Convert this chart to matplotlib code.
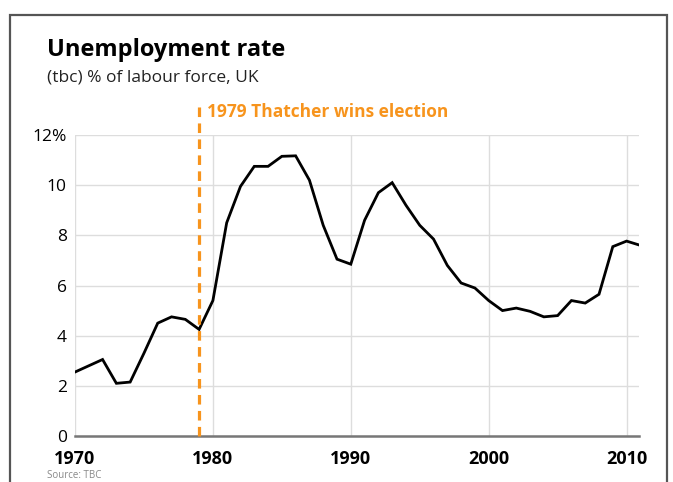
import matplotlib
matplotlib.use("Agg")
import matplotlib.pyplot as plt
from matplotlib.patches import Rectangle

plt.rcParams['font.family'] = ['Open Sans', 'DejaVu Sans']

# UK unemployment rate, % of labour force
years = list(range(1970, 2012))
rate = [2.55, 2.8, 3.05, 2.1, 2.15, 3.3, 4.5, 4.75, 4.65, 4.25,
        5.4, 8.5, 9.95, 10.75, 10.75, 11.15, 11.17, 10.2, 8.4, 7.05,
        6.85, 8.6, 9.7, 10.1, 9.2, 8.4, 7.85, 6.8, 6.1, 5.9,
        5.4, 5.0, 5.1, 4.97, 4.75, 4.8, 5.4, 5.3, 5.65, 7.55,
        7.77, 7.6]

event_year = 1979
event_label = "1979 Thatcher wins election"
yticks = [0, 2, 4, 6, 8, 10, 12]
ytick_labels = ["0", "2", "4", "6", "8", "10", "12%"]
xticks = [1970, 1980, 1990, 2000, 2010]

orange = '#f7941d'

fig = plt.figure(figsize=(6.73, 4.82), dpi=100)

# outer frame (only top/left/right visible)
fig.patches.append(Rectangle((10 / 673, -0.2), 657 / 673, 1.2 - 15 / 482,
                             transform=fig.transFigure, fill=False,
                             edgecolor='#555555', linewidth=1.6))

ax = fig.add_axes([75 / 673, 46 / 482, 564 / 673, 301 / 482])
ax.plot(years, rate, color='black', linewidth=2.0, solid_joinstyle='miter', zorder=3)

ax.set_xlim(1970, 2010.9)
ax.set_ylim(0, 12)

# vertical dashed marker for 1979
ax.plot([event_year, event_year], [0, 13.3], color=orange, linewidth=2.3,
        dashes=(3, 2), clip_on=False, zorder=4)
ax.text(event_year + 0.55, 12.9, event_label, color=orange, fontsize=12.5,
        fontweight='bold', va='center', ha='left')

ax.set_yticks(yticks)
ax.set_yticklabels(ytick_labels, fontsize=12.5)
ax.set_xticks(xticks)
ax.set_xticklabels([str(x) for x in xticks], fontsize=13, fontweight='bold')
ax.tick_params(axis='both', length=0)
ax.tick_params(axis='y', pad=6)
ax.tick_params(axis='x', pad=10)

ax.grid(True, color='#dddddd', linewidth=1.0)
ax.set_axisbelow(True)
for s in ['top', 'right', 'left']:
    ax.spines[s].set_visible(False)
ax.spines['bottom'].set_color('#777777')
ax.spines['bottom'].set_linewidth(1.8)
ax.spines['bottom'].set_zorder(3.5)

fig.text(47 / 673, 1 - 50 / 482, "Unemployment rate", fontsize=17,
         fontweight='bold', va='center', ha='left')
fig.text(47 / 673, 1 - 77 / 482, "(tbc) % of labour force, UK", fontsize=12.5,
         va='center', ha='left', color='#222222')
fig.text(47 / 673, 1 - 475 / 482, "Source: TBC", fontsize=7,
         va='center', ha='left', color='#888888')

fig.savefig("out.png", dpi=100)
